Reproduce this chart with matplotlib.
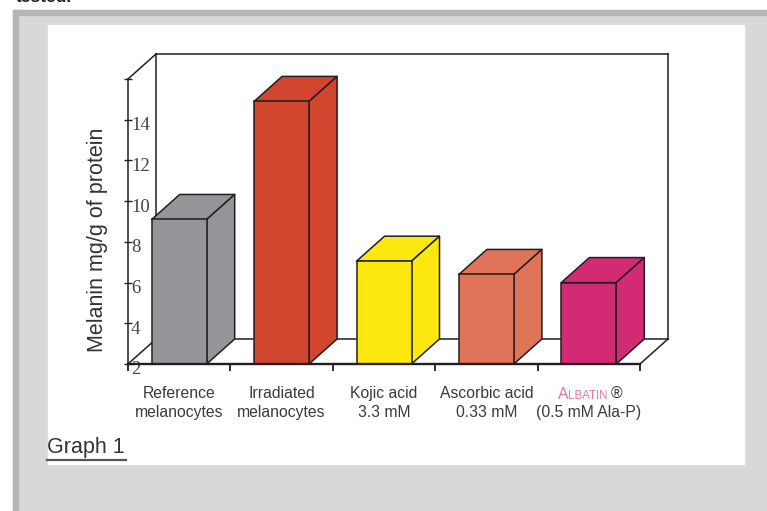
import matplotlib.pyplot as plt
from matplotlib.patches import Polygon, Rectangle
from matplotlib.lines import Line2D

# melanin content per treatment (mg/g of protein)
categories = ["Reference\nmelanocytes", "Irradiated\nmelanocytes", "Kojic acid\n3.3 mM",
              "Ascorbic acid\n0.33 mM", "\n(0.5 mM Ala-P)"]
melanin = [9.1, 14.9, 7.05, 6.4, 6.0]
bar_colors = ["#939598", "#d2452f", "#fce70f", "#e07459", "#d22b73"]
y_ticks = [2, 4, 6, 8, 10, 12, 14, 16]
y_tick_labels = ["2", "4", "6", "8", "10", "12", "14", ""]

W, H = 767, 511
SANS = ["Liberation Sans Narrow", "Liberation Sans", "DejaVu Sans"]
INK = "#231f20"

fig = plt.figure(figsize=(W / 100, H / 100), dpi=100)
fig.patch.set_facecolor("white")


def fx(px):
    return px / W


def fy(py):
    return 1 - py / H


# page frame: grey border and white panel
frame = [
    ((13, 511), 754, 501, "#d7d8da"),
    ((13, 15), 754, 5, "#b4b5b7"),
    ((13, 511), 5, 501, "#b4b5b7"),
    ((48, 464), 696, 439, "white"),
]
for (x0, y0), w, h, c in frame:
    fig.patches.append(Rectangle((fx(x0), fy(y0)), w / W, h / H,
                                 transform=fig.transFigure, color=c, zorder=-2))

fig.text(fx(16), fy(2.5), "tested.", fontsize=12.5, fontweight="bold",
         family=["Liberation Sans", "DejaVu Sans"], color="#222", va="baseline")

# front plane of the chart
ax = fig.add_axes([fx(128), fy(364), (640 - 128) / W, (364 - 79) / H])
n = len(melanin)
ax.set_xlim(0, n)
ax.set_ylim(2, 16)
ax.patch.set_visible(False)

# depth of the 3D box in data units
ddx = 28 / (512 / n)
ddy = 25 / (285 / 14)

lw = 1.1
ymin, ymax = 2, 16
wall = dict(color=INK, lw=lw, zorder=1, clip_on=False, solid_capstyle="projecting")
ax.plot([ddx, n + ddx], [ymin + ddy, ymin + ddy], **wall)
ax.plot([ddx, n + ddx], [ymax + ddy, ymax + ddy], **wall)
ax.plot([ddx, ddx], [ymin + ddy, ymax + ddy], **wall)
ax.plot([n + ddx, n + ddx], [ymin + ddy, ymax + ddy], **wall)
ax.plot([0, ddx], [ymax, ymax + ddy], **wall)
ax.plot([0, ddx], [ymin, ymin + ddy], **wall)
ax.plot([n, n + ddx], [ymin, ymin + ddy], **wall)

# bars: front face via ax.bar, top and side faces as polygons
bw = 55 / (512 / n)
centers = [i + 0.5 for i in range(n)]
heights = [v - ymin for v in melanin]
ax.bar(centers, heights, bottom=ymin, width=bw, color=bar_colors,
       edgecolor=INK, linewidth=lw, zorder=4, clip_on=False)
for cx, v, c in zip(centers, melanin, bar_colors):
    x0, x1 = cx - bw / 2, cx + bw / 2
    top = [(x0, v), (x1, v), (x1 + ddx, v + ddy), (x0 + ddx, v + ddy)]
    side = [(x1, ymin), (x1 + ddx, ymin + ddy), (x1 + ddx, v + ddy), (x1, v)]
    for pts in (top, side):
        ax.add_patch(Polygon(pts, closed=True, facecolor=c, edgecolor=INK,
                             linewidth=lw, zorder=3, clip_on=False, joinstyle="round"))

# axes lines
for side in ("top", "right"):
    ax.spines[side].set_visible(False)
ax.spines["left"].set_linewidth(lw)
ax.spines["left"].set_color(INK)
ax.spines["bottom"].set_linewidth(1.7)
ax.spines["bottom"].set_color(INK)
ax.spines["bottom"].set_zorder(5)

ax.set_yticks(y_ticks)
ax.tick_params(axis="y", direction="inout", length=6, width=1, color=INK, labelleft=False)
for v, lab in zip(y_ticks, y_tick_labels):
    ax.annotate(lab, xy=(0, v), xytext=(3, -6), textcoords="offset pixels",
                ha="left", va="center", fontsize=13.5, color="#444",
                family=["Liberation Serif", "DejaVu Serif"], annotation_clip=False)

ax.set_xticks(centers, labels=categories)
ax.set_xticks(range(n + 1), minor=True)
ax.tick_params(axis="x", which="major", length=0, pad=16)
ax.tick_params(axis="x", which="minor", direction="out", length=5, width=1.3, color=INK)
for t in ax.get_xticklabels():
    t.set_fontfamily(SANS)
    t.set_fontsize(11.3)
    t.set_color("#3a3a3a")
    t.set_linespacing(1.3)

# product name in small caps
pink = "#e27aa1"
name_kw = dict(xycoords=("data", "axes fraction"), textcoords="offset pixels",
               va="baseline", ha="left", family=SANS, annotation_clip=False)
ax.annotate("A", xy=(centers[-1], 0), xytext=(-31, -35), fontsize=11.3, color=pink, **name_kw)
ax.annotate("LBATIN", xy=(centers[-1], 0), xytext=(-20.5, -35), fontsize=8.3, color=pink, **name_kw)
ax.annotate("\u00ae", xy=(centers[-1], 0), xytext=(22, -35), fontsize=11.3, color="#3a3a3a", **name_kw)

fig.text(fx(97), fy(240), "Melanin mg/g of protein", rotation=90, ha="center", va="center",
         fontsize=15.5, color="#333", family=SANS)

fig.text(fx(47), fy(448), "Graph 1", ha="left", va="center", fontsize=15.5,
         color="#333", family=SANS)
fig.lines.append(Line2D([fx(47), fx(126)], [fy(460), fy(460)], transform=fig.transFigure,
                        color="#555", lw=1.6))

fig.savefig("out.png", dpi=100)
